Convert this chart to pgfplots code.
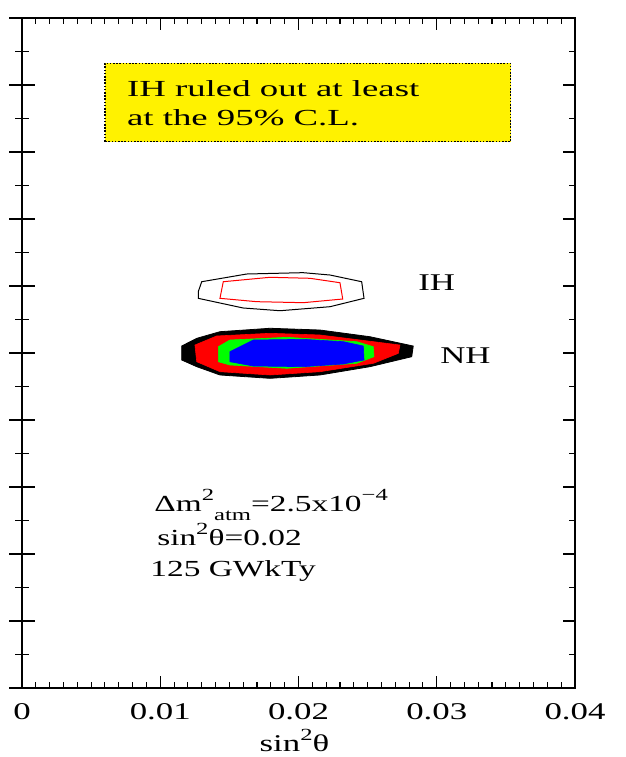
\documentclass[border=0pt]{standalone}
\usepackage{fontspec}
\setmainfont{Liberation Serif}[FakeStretch=1.45]
\newfontfamily\boxfont{Liberation Serif}[FakeStretch=1.6]
\usepackage{pgfplots}
\pgfplotsset{compat=1.18}

\newcommand{\lab}{\fontsize{11.5}{14}\selectfont}
\newcommand{\tlab}{\fontsize{12}{14}\selectfont}
% raised and lowered small text, as in the annotations
\newcommand{\sups}[1]{\raisebox{5.5pt}{\fontsize{8.5}{10}\selectfont #1}}
\newcommand{\subs}[1]{\raisebox{-4.5pt}{\fontsize{8.5}{10}\selectfont #1}}

\begin{document}
\begin{tikzpicture}
\begin{axis}[
  name=main,
  scale only axis,
  width=276.5pt, height=335pt,
  xmin=0, xmax=0.04, ymin=0, ymax=10,
  xtick={0,0.01,0.02,0.03,0.04},
  xticklabels={0,0.01,0.02,0.03,0.04},
  minor x tick num=9,
  ytick={0,1,...,10}, yticklabels={},
  minor y tick num=1,
  xtick pos=both, ytick pos=right,
  tick align=inside,
  major tick length=6pt, minor tick length=3pt,
  axis line style={line width=0.9pt},
  tick style={black, line width=0.55pt},
  /pgf/number format/assume math mode=true,
  xticklabel style={font=\tlab, anchor=base, yshift=-15.5pt},
  xlabel={sin\sups{2}θ},
  xlabel style={font=\tlab, at={(axis description cs:0.5,0)}, anchor=base, yshift=-31.5pt, xshift=-2pt},
  clip=false,
]
  % explanatory box
  \draw[fill=yellow, line width=0.7pt, dash pattern=on 0.8pt off 0.8pt]
    (axis cs:0.0060,8.154) rectangle (axis cs:0.03535,9.324);
  \node[font=\boxfont\lab, anchor=base west, inner sep=0pt] at (axis cs:0.00757,8.825) {IH ruled out at least};
  \node[font=\boxfont\lab, anchor=base west, inner sep=0pt] at (axis cs:0.00757,8.403) {at the 95\% C.L.};

  % NH allowed regions (outer to inner)
  \addplot[fill=black, draw=black, line width=0.4pt] coordinates {
    (0.01155,5.104) (0.01264,5.219) (0.01432,5.318) (0.01794,5.369)
    (0.02155,5.343) (0.02517,5.243) (0.02830,5.104) (0.02819,4.945)
    (0.02517,4.796) (0.02155,4.672) (0.01794,4.622) (0.01432,4.672)
    (0.01264,4.796) (0.01155,4.896)} -- cycle;
  \addplot[fill=red, draw=red, line width=0.3pt] coordinates {
    (0.01251,5.119) (0.01408,5.254) (0.01794,5.294) (0.02155,5.269)
    (0.02541,5.169) (0.02734,5.119) (0.02722,4.995) (0.02541,4.846)
    (0.02155,4.721) (0.01794,4.672) (0.01432,4.721) (0.01264,4.870)} -- cycle;
  \addplot[fill=green, draw=green, line width=0.3pt] coordinates {
    (0.01420,5.094) (0.01504,5.194) (0.01915,5.234) (0.02421,5.169)
    (0.02541,5.094) (0.02546,4.945) (0.02421,4.846) (0.01915,4.772)
    (0.01504,4.821) (0.01420,4.870)} -- cycle;
  \addplot[fill=blue, draw=blue, line width=0.3pt] coordinates {
    (0.01504,5.019) (0.01673,5.194) (0.02035,5.204) (0.02324,5.169)
    (0.02469,5.104) (0.02474,4.896) (0.02324,4.836) (0.02035,4.796)
    (0.01673,4.806) (0.01504,4.870)} -- cycle;

  % IH contours
  \addplot[draw=black, line width=0.5pt] coordinates {
    (0.01275,5.915) (0.01300,6.064) (0.01625,6.179) (0.02033,6.199)
    (0.02228,6.164) (0.02457,6.064) (0.02474,5.816) (0.02228,5.691)
    (0.01866,5.631) (0.01599,5.672) (0.01275,5.816)} -- cycle;
  \addplot[draw=red, line width=0.5pt] coordinates {
    (0.01432,5.816) (0.01456,6.064) (0.01794,6.130) (0.02083,6.115)
    (0.02300,6.049) (0.02320,5.806) (0.02035,5.751) (0.01698,5.766)} -- cycle;

  \node[font=\tlab, anchor=base west, inner sep=0pt] at (axis cs:0.02864,5.94) {IH};
  \node[font=\tlab, anchor=base west, inner sep=0pt] at (axis cs:0.03023,4.85) {NH};

  \node[font=\lab, anchor=base west, inner sep=0pt] at (axis cs:0.00955,2.627)
    {Δm\sups{2}\subs{atm}=2.5x10\sups{−4}};
  \node[font=\lab, anchor=base west, inner sep=0pt] at (axis cs:0.00976,2.134)
    {sin\sups{2}θ=0.02};
  \node[font=\lab, anchor=base west, inner sep=0pt] at (axis cs:0.00926,1.657)
    {125 GWkTy};
\end{axis}

% left-hand ticks, crossing the axis line
\begin{axis}[
  at={(main.south west)}, anchor=south west,
  scale only axis,
  width=276.5pt, height=335pt,
  xmin=0, xmax=0.04, ymin=0, ymax=10,
  hide x axis,
  axis y line*=left,
  y axis line style={-, line width=0.9pt},
  ytick={0,1,...,10}, yticklabels={},
  minor y tick num=1,
  tick align=center,
  major tick length=12.5pt, minor tick length=6.5pt,
  tick style={black, line width=0.55pt},
]
\end{axis}

\pgfresetboundingbox
\path[use as bounding box]
  ([shift={(-11pt,-34.5pt)}]main.south west) rectangle ([shift={(25.5pt,9pt)}]main.north east);
\end{tikzpicture}
\end{document}
